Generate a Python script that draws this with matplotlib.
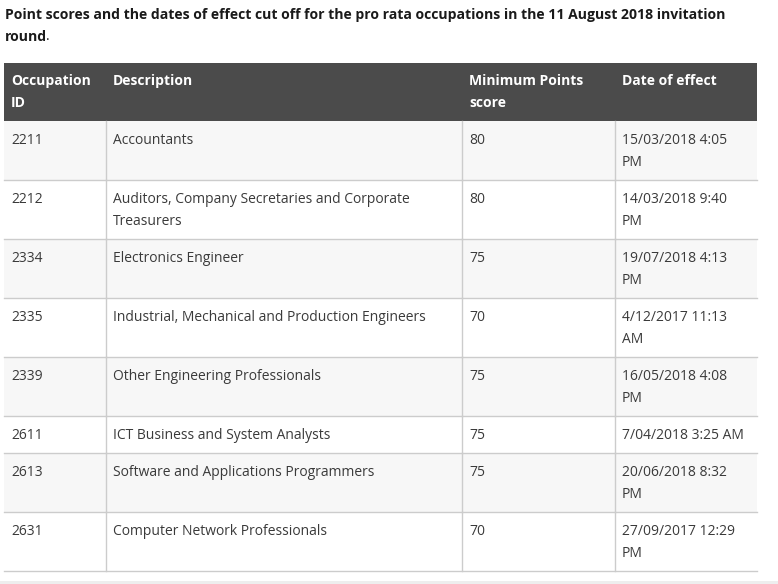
import matplotlib.pyplot as plt
from matplotlib.patches import Rectangle

plt.rcParams['font.family'] = ['Open Sans', 'DejaVu Sans']

# 表格数据
headers = [["Occupation", "ID"], ["Description"], ["Minimum Points", "score"], ["Date of effect"]]
occ_ids = ["2211", "2212", "2334", "2335", "2339", "2611", "2613", "2631"]
descriptions = [["Accountants"],
                ["Auditors, Company Secretaries and Corporate", "Treasurers"],
                ["Electronics Engineer"],
                ["Industrial, Mechanical and Production Engineers"],
                ["Other Engineering Professionals"],
                ["ICT Business and System Analysts"],
                ["Software and Applications Programmers"],
                ["Computer Network Professionals"]]
min_points = ["80", "80", "75", "70", "75", "75", "75", "70"]
dates = [["15/03/2018 4:05", "PM"], ["14/03/2018 9:40", "PM"], ["19/07/2018 4:13", "PM"],
         ["4/12/2017 11:13", "AM"], ["16/05/2018 4:08", "PM"], ["7/04/2018 3:25 AM"],
         ["20/06/2018 8:32", "PM"], ["27/09/2017 12:29", "PM"]]

W, H = 778, 584
fig = plt.figure(figsize=(W / 100, H / 100), dpi=100)
ax = fig.add_axes([0, 0, 1, 1])
ax.set_xlim(0, W)
ax.set_ylim(H, 0)
ax.axis("off")

col_x = [4, 106, 462, 615, 757]  # 列边界
line_h = 22
fs = 10
txt_col = "#3a3a3a"
grid_col = "#cccccc"

# 标题
ax.text(5, 15, "Point scores and the dates of effect cut off for the pro rata occupations in the 11 August 2018 invitation",
        fontsize=10.1, fontweight="bold", color="#1a1a1a", va="center")
ax.text(5, 37, "round", fontsize=10.1, fontweight="bold", color="#1a1a1a", va="center")
ax.text(46, 37, ".", fontsize=10.1, color="#1a1a1a", va="center")

# 表头
top = 63
head_h = 58
ax.add_patch(Rectangle((col_x[0], top), col_x[-1] - col_x[0], head_h, color="#4b4b4b", lw=0))
for c, lines in enumerate(headers):
    for k, s in enumerate(lines):
        ax.text(col_x[c] + 7, top + 18 + k * line_h, s, fontsize=fs, fontweight="bold",
                color="white", va="center")

# 数据行
y = top + head_h
for r in range(len(occ_ids)):
    cells = [[occ_ids[r]], descriptions[r], [min_points[r]], dates[r]]
    n = max(len(c) for c in cells)
    h = 15 + n * line_h
    bg = "#f7f7f7" if r % 2 == 0 else "white"
    ax.add_patch(Rectangle((col_x[0], y), col_x[-1] - col_x[0], h, color=bg, lw=0))
    for c, lines in enumerate(cells):
        for k, s in enumerate(lines):
            ax.text(col_x[c] + 7, y + 19.5 + k * line_h, s, fontsize=fs, color=txt_col, va="center")
    for xx in col_x[1:-1]:
        ax.plot([xx, xx], [y, y + h], color=grid_col, lw=1)
    ax.plot([col_x[0], col_x[-1]], [y + h, y + h], color=grid_col, lw=1)
    y += h

# 底部灰条
ax.add_patch(Rectangle((0, 581), W, 10, color="#eeeeee", lw=0))

fig.savefig("out.png", dpi=100)
